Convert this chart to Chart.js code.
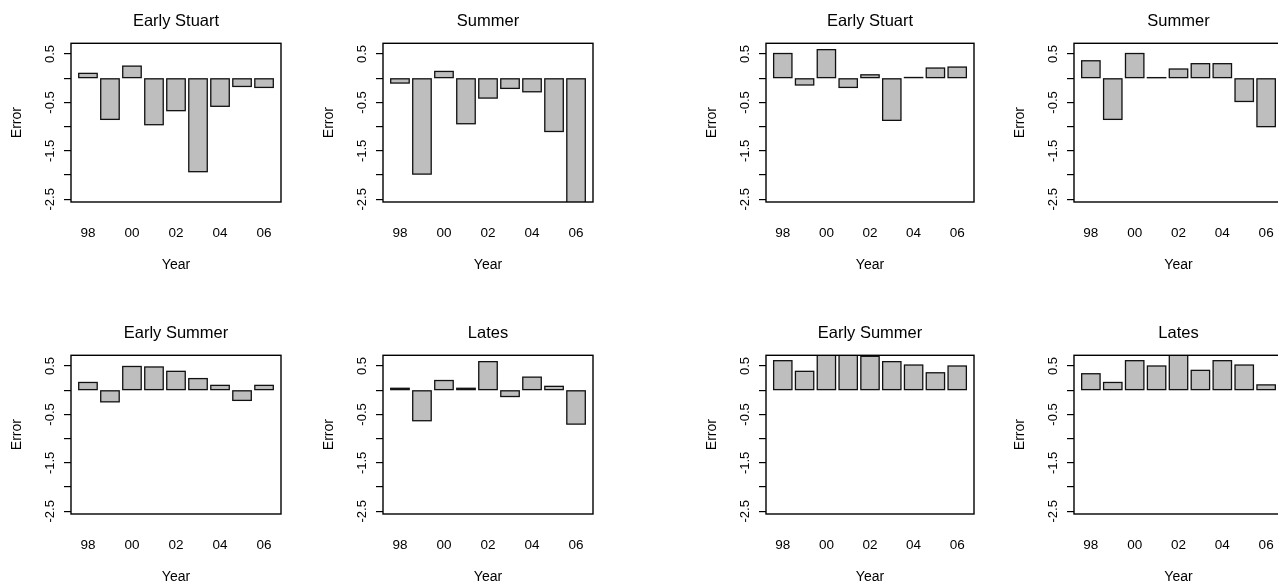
<!DOCTYPE html>
<html>
<head>
<meta charset="utf-8">
<script src="https://cdn.jsdelivr.net/npm/chart.js@4.4.1/dist/chart.umd.min.js"></script>
<style>
  html, body { margin: 0; padding: 0; background: #fff; overflow: hidden; width: 1278px; height: 583px; }
  .panel { position: absolute; }
</style>
</head>
<body>
<script>
// data
const years = [1998, 1999, 2000, 2001, 2002, 2003, 2004, 2005, 2006];
const yearTicks = [1998, 2000, 2002, 2004, 2006];
const errorTicks = [0.5, 0, -0.5, -1, -1.5, -2, -2.5];
const errorLabels = [0.5, -0.5, -1.5, -2.5];

// left figure
const earlyStuartA = [0.10, -0.85, 0.25, -0.96, -0.67, -1.93, -0.58, -0.17, -0.19];
const summerA = [-0.10, -1.98, 0.14, -0.94, -0.41, -0.21, -0.28, -1.10, -2.70];
const earlySummerA = [0.16, -0.24, 0.49, 0.48, 0.39, 0.24, 0.10, -0.21, 0.10];
const latesA = [0.04, -0.63, 0.20, 0.04, 0.59, -0.13, 0.27, 0.08, -0.70];

// right figure
const earlyStuartB = [0.51, -0.14, 0.59, -0.19, 0.07, -0.87, 0.015, 0.21, 0.23];
const summerB = [0.36, -0.85, 0.51, 0.01, 0.19, 0.30, 0.30, -0.48, -1.00];
const earlySummerB = [0.61, 0.39, 0.78, 0.80, 0.70, 0.59, 0.52, 0.36, 0.50];
const latesB = [0.34, 0.16, 0.61, 0.50, 0.76, 0.41, 0.61, 0.52, 0.11];

const FONT = '"Liberation Sans", Arial, Helvetica, sans-serif';
Chart.defaults.font.family = FONT;
Chart.defaults.color = '#000';

// panel layout
const panels = [
    { title: 'Early Stuart', values: earlyStuartA, left: 0, top: 0, w: 210 },
    { title: 'Summer', values: summerA, left: 312, top: 0, w: 210 },
    { title: 'Early Stuart', values: earlyStuartB, left: 695, top: 0, w: 208 },
    { title: 'Summer', values: summerB, left: 1003, top: 0, w: 209 },
    { title: 'Early Summer', values: earlySummerA, left: 0, top: 312, w: 210 },
    { title: 'Lates', values: latesA, left: 312, top: 312, w: 210 },
    { title: 'Early Summer', values: earlySummerB, left: 695, top: 312, w: 208 },
    { title: 'Lates', values: latesB, left: 1003, top: 312, w: 209 },
];

// R style bar outlines (centered stroke, so near-zero bars still show)
const outlines = {
    id: 'outlines',
    afterDatasetsDraw(chart) {
        const { ctx, chartArea: a } = chart;
        ctx.save();
        ctx.beginPath();
        ctx.rect(a.left, a.top, a.right - a.left, a.bottom - a.top);
        ctx.clip();
        ctx.strokeStyle = '#111';
        ctx.lineWidth = 1.3;
        chart.getDatasetMeta(0).data.forEach(bar => {
            const { x, y, base, width } = bar.getProps(['x', 'y', 'base', 'width'], true);
            ctx.strokeRect(x - width / 2, Math.min(y, base), width, Math.abs(base - y));
        });
        ctx.restore();
    }
};

// box + rotated y labels
const frame = {
    id: 'frame',
    afterDraw(chart) {
        const { ctx, chartArea: a, scales: { y } } = chart;
        ctx.save();
        ctx.strokeStyle = '#000';
        ctx.lineWidth = 1.4;
        ctx.strokeRect(a.left, a.top, a.right - a.left, a.bottom - a.top);
        ctx.fillStyle = '#000';
        ctx.font = '13px ' + FONT;
        ctx.textAlign = 'center';
        ctx.textBaseline = 'alphabetic';
        errorLabels.forEach(v => {
            ctx.save();
            ctx.translate(a.left - 17, y.getPixelForValue(v));
            ctx.rotate(-Math.PI / 2);
            ctx.fillText(v.toFixed(1), 0, 0);
            ctx.restore();
        });
        ctx.restore();
    }
};

panels.forEach(p => {
    const canvas = document.createElement('canvas');
    canvas.className = 'panel';
    canvas.width = 71 + p.w + 20;
    canvas.height = 283;
    canvas.style.left = p.left + 'px';
    canvas.style.top = p.top + 'px';
    document.body.appendChild(canvas);

    new Chart(canvas.getContext('2d'), {
        type: 'bar',
        data: {
            labels: years,
            datasets: [{
                data: p.values,
                backgroundColor: '#bebebe',
                borderWidth: 0,
                barPercentage: 0.84,
                categoryPercentage: 1,
                clip: 0,
            }],
        },
        options: {
            responsive: false,
            animation: false,
            layout: { padding: { left: 0, right: 20, top: 0, bottom: 0 } },
            plugins: {
                legend: { display: false },
                tooltip: { enabled: false },
                title: {
                    display: true,
                    text: p.title,
                    fullSize: false,
                    color: '#000',
                    font: { size: 16.5, weight: 'normal' },
                    padding: { top: 11.3, bottom: 12.2 },
                },
            },
            scales: {
                x: {
                    type: 'linear',
                    min: years[0] - 0.77,
                    max: years[years.length - 1] + 0.77,
                    offset: false,
                    grid: { display: false, drawTicks: false },
                    border: { display: false },
                    afterBuildTicks: s => { s.ticks = yearTicks.map(v => ({ value: v })); },
                    ticks: {
                        autoSkip: false,
                        maxRotation: 0,
                        padding: 22.8,
                        color: '#000',
                        font: { size: 13.5 },
                        callback: v => String(v).slice(2),
                    },
                    title: {
                        display: true,
                        text: 'Year',
                        color: '#000',
                        font: { size: 14 },
                        padding: { top: 0, bottom: 9.6 },
                    },
                    afterFit: s => { s.height = 81; },
                },
                y: {
                    min: -2.556,
                    max: 0.721,
                    afterBuildTicks: s => { s.ticks = errorTicks.map(v => ({ value: v })); },
                    ticks: { display: false },
                    grid: { drawOnChartArea: false, drawTicks: true, tickLength: 7, color: '#000', lineWidth: 1.2 },
                    border: { display: false },
                    title: {
                        display: true,
                        text: 'Error',
                        color: '#000',
                        font: { size: 14 },
                        padding: { top: 8.9, bottom: 0 },
                    },
                    afterFit: s => { s.width = 71; },
                },
            },
        },
        plugins: [outlines, frame],
    });
});
</script>
</body>
</html>
